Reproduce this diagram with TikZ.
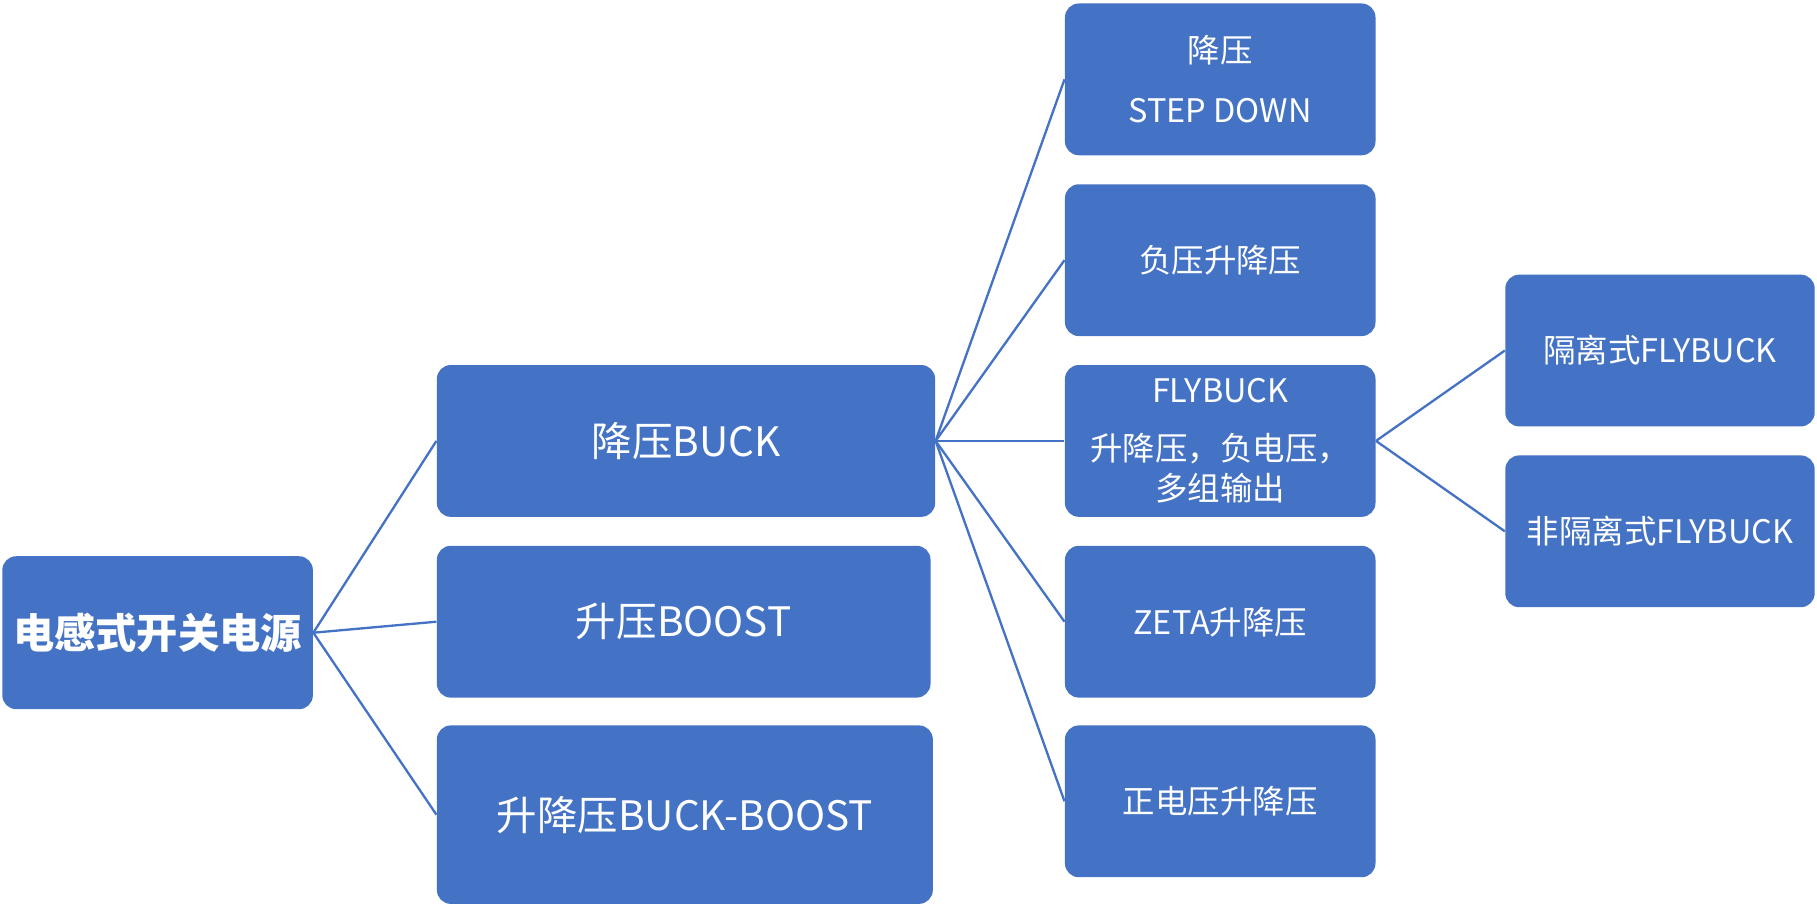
\documentclass[tikz,border=0pt]{standalone}
\usepackage{fontspec}
\setmainfont{Noto Sans CJK SC}
\definecolor{boxblue}{HTML}{4472C4}
\definecolor{lineblue}{HTML}{4472C4}
\begin{document}
\begin{tikzpicture}[x=0.5pt,y=-0.5pt,
  box/.style={draw=none, fill=boxblue, rounded corners=6pt, text=white, align=center, inner sep=0pt},
  rootbox/.style={box, font=\bfseries\fontsize{17.8}{21}\selectfont, minimum width=134pt, minimum height=66pt},
  lvla/.style={box, font=\fontsize{17.5}{21}\selectfont, minimum height=65.5pt},
  lvlb/.style={box, font=\fontsize{14}{17.5}\selectfont, minimum width=134pt, minimum height=65.5pt},
  conn/.style={draw=lineblue, line width=1pt}]
\useasboundingbox (0,0) rectangle (1568,782);

\node[rootbox] (root) at (136,546) {电感式开关电源};

\node[lvla, minimum width=215pt] (buck) at (592,380.5) {降压BUCK};
\node[lvla, minimum width=213pt] (boost) at (590,536.5) {升压BOOST};
\node[lvla, minimum width=214pt, minimum height=77pt] (bb) at (591,703) {升降压BUCK-BOOST};

\node[lvlb] (sd) at (1053,68.5) {降压\\[8.5pt]STEP DOWN};
\node[lvlb] (neg) at (1053,224.5) {负压升降压};
\node[lvlb] (fly) at (1053,380.5) {FLYBUCK\\[7.5pt]升降压，负电压，\\多组输出};
\node[lvlb] (zeta) at (1053,536.5) {ZETA升降压};
\node[lvlb] (pos) at (1053,691.5) {正电压升降压};

\node[lvlb, minimum width=133.5pt] (iso) at (1432.5,302.5) {隔离式FLYBUCK};
\node[lvlb, minimum width=133.5pt] (niso) at (1432.5,458.5) {非隔离式FLYBUCK};

\draw[conn] (root.east) -- (buck.west);
\draw[conn] (root.east) -- (boost.west);
\draw[conn] (root.east) -- (bb.west);

\draw[conn] (buck.east) -- (sd.west);
\draw[conn] (buck.east) -- (neg.west);
\draw[conn] (buck.east) -- (fly.west);
\draw[conn] (buck.east) -- (zeta.west);
\draw[conn] (buck.east) -- (pos.west);

\draw[conn] (fly.east) -- (iso.west);
\draw[conn] (fly.east) -- (niso.west);
\end{tikzpicture}
\end{document}
